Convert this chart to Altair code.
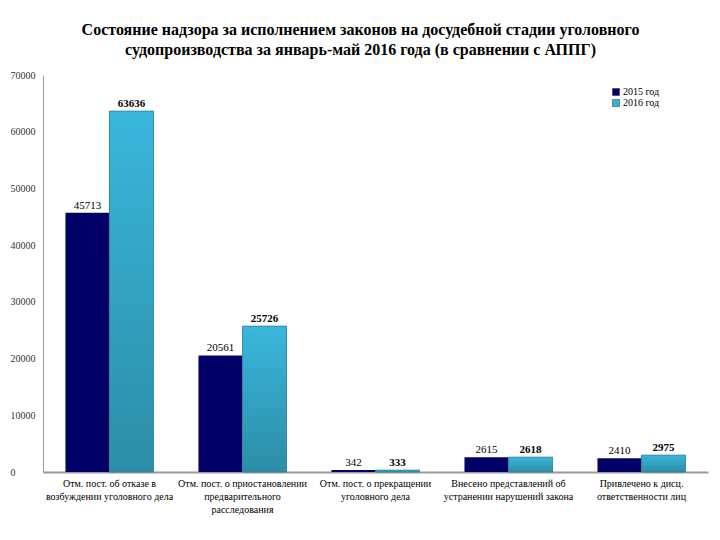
import altair as alt
import pandas as pd

categories = [
    "Отм. пост. об отказе в|возбуждении уголовного дела",
    "Отм. пост. о приостановлении|предварительного|расследования",
    "Отм. пост. о прекращении|уголовного дела",
    "Внесено представлений об|устранении нарушений закона",
    "Привлечено к дисц.|ответственности лиц",
]
series = ["2015 год", "2016 год"]
values_2015 = [45713, 20561, 342, 2615, 2410]
values_2016 = [63636, 25726, 333, 2618, 2975]
y_ticks = [0, 10000, 20000, 30000, 40000, 50000, 60000, 70000]

rows = []
for c, a, b in zip(categories, values_2015, values_2016):
    rows.append({"cat": c, "series": series[0], "value": a})
    rows.append({"cat": c, "series": series[1], "value": b})
df = pd.DataFrame(rows)

FONT = "Liberation Serif"

x = alt.X("cat:N", sort=categories, title=None,
          scale=alt.Scale(paddingInner=0.338, paddingOuter=0.169),
          axis=alt.Axis(labelExpr="split(datum.label, '|')", labelAngle=0,
                        labelFont=FONT, labelFontSize=10, labelColor="#000",
                        labelLimit=300, labelLineHeight=13, labelPadding=6,
                        ticks=False, domainColor="#9a9a9a", domainWidth=2))
xo = alt.XOffset("series:N", sort=series, scale=alt.Scale(domain=series))
y = alt.Y("value:Q", title=None,
          scale=alt.Scale(domain=[0, 70000], nice=False),
          axis=alt.Axis(values=y_ticks, format="d", grid=False, ticks=False, labelAlign="left",
                        labelPadding=33, labelFont=FONT, labelFontSize=10,
                        labelColor="#333", domainColor="#9a9a9a", domainWidth=1))

base = alt.Chart(df)

bars = base.mark_bar().encode(
    x=x, xOffset=xo, y=y,
    color=alt.Color("series:N", sort=series,
                    scale=alt.Scale(domain=series, range=["#000066", "#36B0D6"]),
                    legend=alt.Legend(title=None, orient="none", legendX=568, legendY=12,
                                      symbolType="square", symbolSize=50,
                                      symbolStrokeWidth=0.5, symbolStrokeColor="#333",
                                      labelFont=FONT, labelFontSize=10, labelColor="#000",
                                      rowPadding=1, labelOffset=2)),
)

grad = base.transform_filter(alt.datum.series == series[1]).mark_bar(
    stroke="#2b8099", strokeWidth=0.8,
    color=alt.Gradient(gradient="linear", x1=0, y1=0, x2=0, y2=1,
                       stops=[alt.GradientStop(color="#3AB6DC", offset=0),
                              alt.GradientStop(color="#2C8DA6", offset=1)])
).encode(x=x, xOffset=xo, y=y)

t2015 = base.transform_filter(alt.datum.series == series[0]).mark_text(
    dy=-7, font=FONT, fontSize=11, color="#000"
).encode(x=x, xOffset=xo, y=y, text=alt.Text("value:Q", format="d"))

t2016 = base.transform_filter(alt.datum.series == series[1]).mark_text(
    dy=-7, font=FONT, fontSize=11, fontWeight="bold", color="#000"
).encode(x=x, xOffset=xo, y=y, text=alt.Text("value:Q", format="d"))

chart = alt.layer(bars, grad, t2015, t2016).properties(
    width=665, height=397,
    autosize=alt.AutoSizeParams(type="none"),
    padding={"left": 35, "top": 67, "right": 4, "bottom": 60},
    title=alt.TitleParams(
        ["Состояние надзора за исполнением законов на досудебной стадии уголовного",
         "судопроизводства за январь-май 2016 года (в сравнении с АППГ)"],
        font=FONT, fontSize=16, fontWeight="bold", color="#000",
        anchor="middle", dx=-15, offset=12, lineHeight=20),
).configure(font=FONT).configure_view(stroke=None).configure_axis(
    labelFont=FONT
).configure_legend(labelFont=FONT).configure_text(font=FONT)

chart.save("out.html", embed_options={"renderer": "svg", "actions": False})
